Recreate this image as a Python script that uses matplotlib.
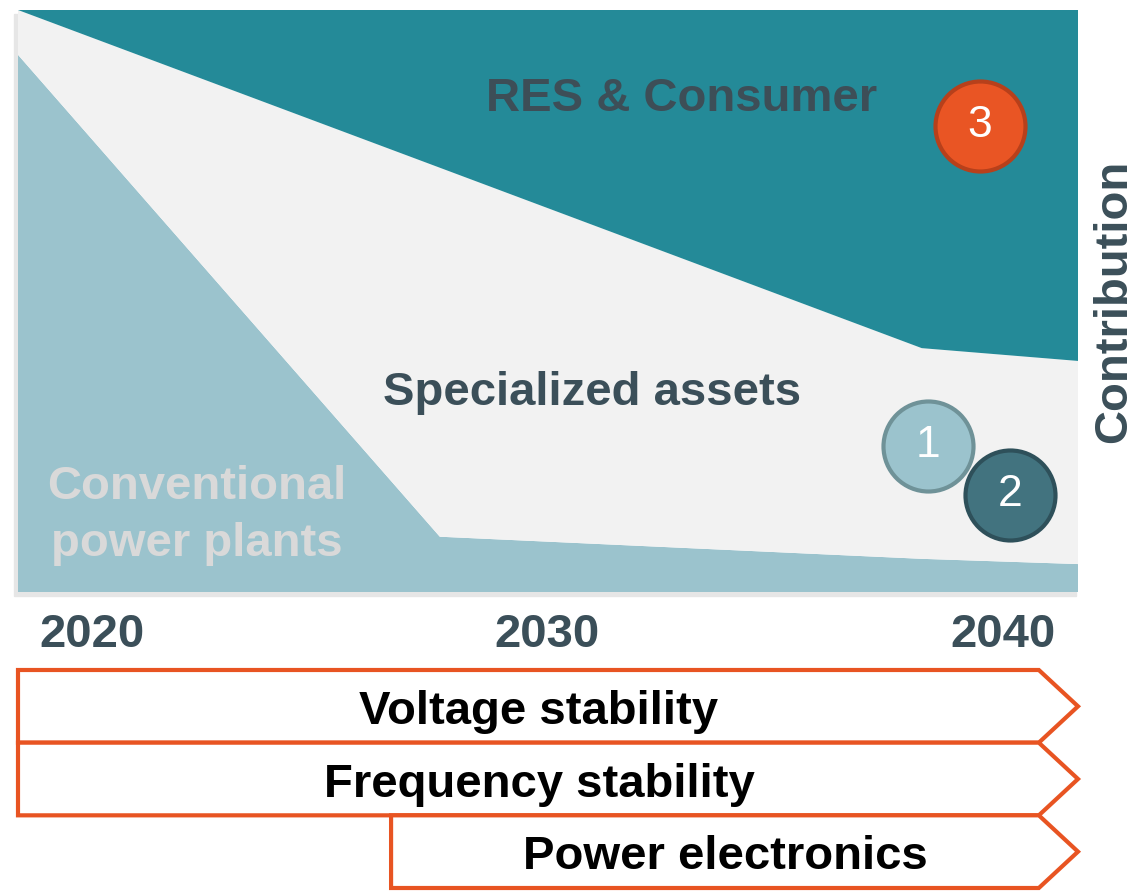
import numpy as np
import matplotlib
matplotlib.use("Agg")
import matplotlib.pyplot as plt
from matplotlib.patches import Polygon, Rectangle

plt.rcParams["font.family"] = ["Liberation Sans", "DejaVu Sans"]

# Stacked contribution shares (x in years, values in % of total)
years = [2018.38, 2027.64, 2038.22, 2041.65]
conventional = [92.3, 9.5, 5.7, 4.8]
specialized = [7.7, 63.4, 36.2, 34.9]
res_consumer = [0.0, 27.1, 58.1, 60.3]

year_ticks = [2020, 2030, 2040]
year_labels = ["2020", "2030", "2040"]

# Stability requirement arrows
need_labels = ["Voltage stability", "Frequency stability", "Power electronics"]
need_start = [2018.38, 2018.38, 2026.57]
need_end = 2041.65

teal = "#248A98"
light_grey = "#F2F2F2"
light_blue = "#9BC3CD"
dark_text = "#3B4F59"
orange = "#E85422"

fig = plt.figure(figsize=(11.34, 8.91), dpi=100)
W, H = 1134, 891

# faint drop shadow behind the chart panel
fig.patches.append(Rectangle((14 / W, (H - 596) / H), 1062 / W, 582 / H,
                             transform=fig.transFigure, color="#E6E6E6", zorder=-1))

ax = fig.add_axes([18 / W, (H - 592) / H, 1060 / W, 582 / H])
ax.stackplot(years, conventional, specialized, res_consumer,
             colors=[light_blue, light_grey, teal], linewidth=0)
ax.set_xlim(years[0], years[-1])
ax.set_ylim(0, 100)
for s in ax.spines.values():
    s.set_visible(False)
ax.set_yticks([])
ax.set_xticks(year_ticks)
ax.set_xticklabels(year_labels, fontsize=34, fontweight="bold", color=dark_text)
ax.tick_params(axis="x", length=0, pad=15)
ax.yaxis.set_label_position("right")
ax.set_ylabel("Contribution", fontsize=34, fontweight="bold", color=dark_text, labelpad=10)

# area labels
ax.text(0.626, 0.847, "RES & Consumer", transform=ax.transAxes, ha="center", va="center",
        fontsize=34, fontweight="bold", color="#3D4E57")
ax.text(0.542, 0.342, "Specialized assets", transform=ax.transAxes, ha="center", va="center",
        fontsize=34, fontweight="bold", color=dark_text)
ax.text(0.169, 0.132, "Conventional\npower plants", transform=ax.transAxes, ha="center",
        va="center", fontsize=34, fontweight="bold", color="#D9D9D9", linespacing=1.38)

# numbered markers
markers = [
    ("1", 0.8585, 0.2509, light_blue, "#6F9298"),
    ("2", 0.9358, 0.1667, "#42737F", "#2E505A"),
    ("3", 0.9075, 0.8007, "#E95524", "#B7401B"),
]
for i, (num, mx, my, fc, ec) in enumerate(markers):
    ax.scatter([mx], [my], s=4200, color=fc, edgecolors=ec, linewidths=3,
               transform=ax.transAxes, zorder=5 + i, clip_on=False)
    ax.text(mx, my, num, transform=ax.transAxes, ha="center", va="center",
            fontsize=32, color="white", zorder=6 + i)

# arrows below
bx = fig.add_axes([18 / W, (H - 888) / H, 1060 / W, 218 / H])
bx.set_xlim(years[0], years[-1])
bx.set_ylim(3, 0)
bx.axis("off")
tip = 0.86
for i, (lab, x0) in enumerate(zip(need_labels, need_start)):
    body = need_end - tip
    pts = [(x0, i), (body, i), (need_end, i + 0.5), (body, i + 1), (x0, i + 1)]
    bx.add_patch(Polygon(pts, closed=True, facecolor="white", edgecolor=orange,
                         linewidth=3, joinstyle="miter", clip_on=False))
    bx.text((x0 + need_end) / 2 - 0.2, i + 0.58, lab, ha="center", va="center",
            fontsize=34, fontweight="bold", color="black")

fig.savefig("out.png", dpi=100)
